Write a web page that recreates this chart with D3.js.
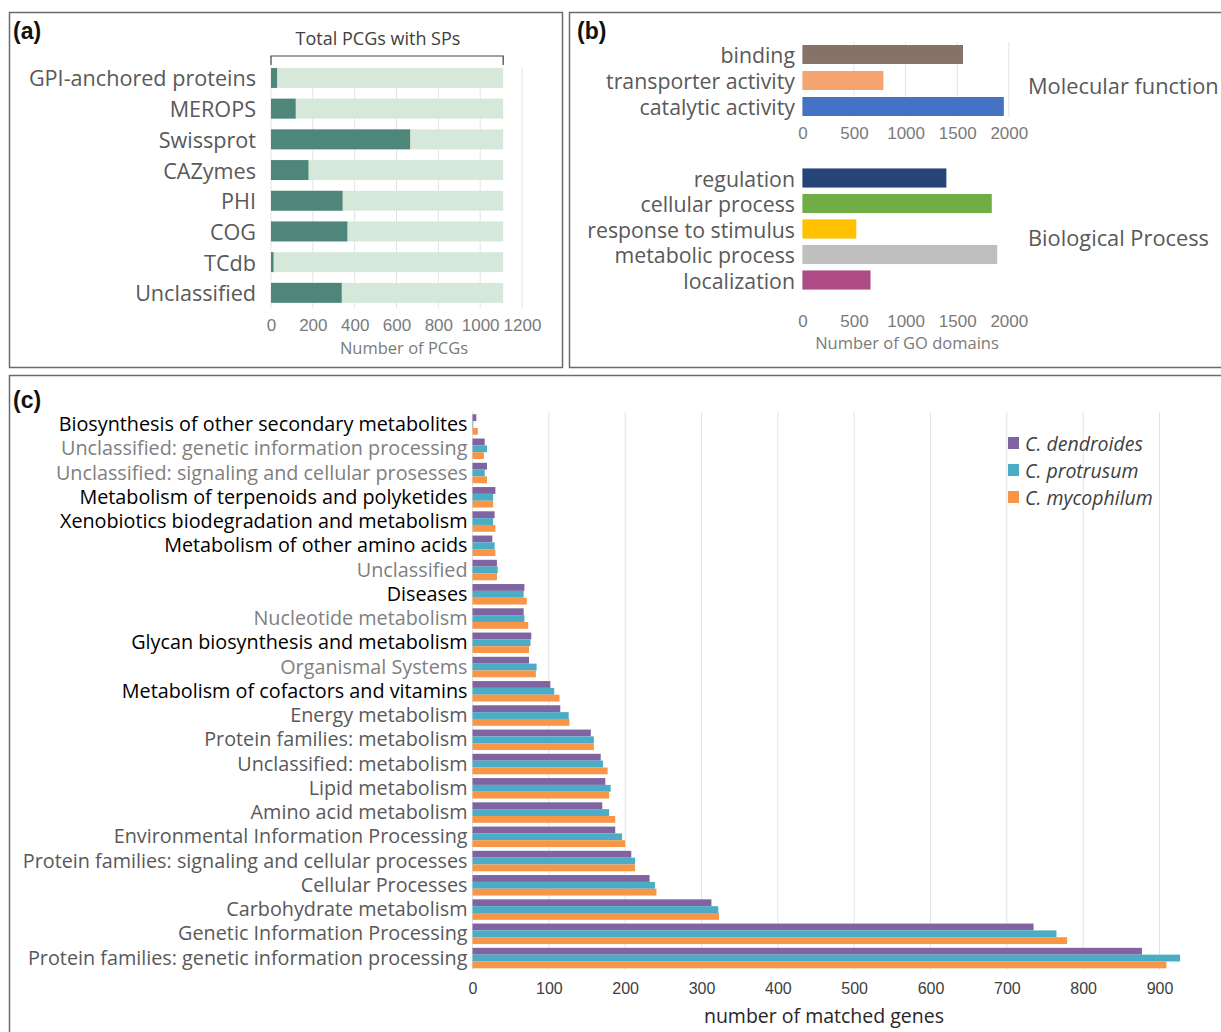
<!DOCTYPE html>
<html>
<head>
<meta charset="utf-8">
<script src="https://cdn.jsdelivr.net/npm/d3@7"></script>
<style>
    body {margin: 0; background: #fff;}
    svg {display: block; font-family: 'Open Sans', Lato, sans-serif;}
</style>
</head>
<body>
<svg id="fig"></svg>
<script>

//panel (a) data
var pcgCategories = ['GPI-anchored proteins', 'MEROPS', 'Swissprot', 'CAZymes', 'PHI', 'COG', 'TCdb', 'Unclassified'];
var pcgCounts = [29, 118, 665, 179, 342, 365, 12, 338];
var pcgTotal = 1110;
var pcgTicks = [0, 200, 400, 600, 800, 1000, 1200];

//panel (b) data
var mfCategories = ['binding', 'transporter activity', 'catalytic activity'];
var mfCounts = [1556, 785, 1952];
var bpCategories = ['regulation', 'cellular process', 'response to stimulus', 'metabolic process', 'localization'];
var bpCounts = [1395, 1835, 522, 1888, 660];
var goTicks = [0, 500, 1000, 1500, 2000];

//panel (c) data
var keggCategories = [
    'Biosynthesis of other secondary metabolites',
    'Unclassified: genetic information processing',
    'Unclassified: signaling and cellular prosesses',
    'Metabolism of terpenoids and polyketides',
    'Xenobiotics biodegradation and metabolism',
    'Metabolism of other amino acids',
    'Unclassified',
    'Diseases',
    'Nucleotide metabolism',
    'Glycan biosynthesis and metabolism',
    'Organismal Systems',
    'Metabolism of cofactors and vitamins',
    'Energy metabolism',
    'Protein families: metabolism',
    'Unclassified: metabolism',
    'Lipid metabolism',
    'Amino acid metabolism',
    'Environmental Information Processing',
    'Protein families: signaling and cellular processes',
    'Cellular Processes',
    'Carbohydrate metabolism',
    'Genetic Information Processing',
    'Protein families: genetic information processing'
];
var species = ['C. dendroides', 'C. protrusum', 'C. mycophilum'];
var dendroides = [5, 16, 19, 30, 29, 26, 32, 68, 67, 77, 74, 102, 115, 155, 168, 174, 170, 187, 208, 232, 313, 735, 877];
var protrusum = [1, 19, 16, 27, 27, 29, 33, 67, 68, 76, 84, 107, 126, 159, 171, 181, 179, 196, 213, 239, 322, 765, 927];
var mycophilum = [7, 15, 19, 27, 30, 30, 32, 71, 73, 74, 83, 114, 127, 159, 177, 179, 187, 200, 213, 241, 323, 779, 909];
var keggTicks = [0, 100, 200, 300, 400, 500, 600, 700, 800, 900];

//styling
var darkGreen = '#4e877a';
var lightGreen = '#d5e8da';
var mfColors = ['#857369', '#f4a46f', '#4472c4'];
var bpColors = ['#264478', '#70ad47', '#ffc000', '#bfbfbf', '#ae4b84'];
var speciesColors = ['#8064a2', '#4bacc6', '#f79646'];
var textGrey = '#595959';
var gridGrey = '#e3e3e3';
//label tone in panel (c): k = black, l = light grey, anything else = mid grey
var keggTone = 'kllkkklklklk';

var svg = d3.select('#fig')
    .attr('width', 1221)
    .attr('height', 1032);

svg.append('rect')
    .attr('width', 1221)
    .attr('height', 1032)
    .attr('fill', '#fff');

//panel frames
[[9.5, 12.5, 553, 355], [569.5, 12.5, 700, 355], [9.5, 375.5, 1240, 700]].forEach(function(b) {
    svg.append('rect')
        .attr('x', b[0])
        .attr('y', b[1])
        .attr('width', b[2])
        .attr('height', b[3])
        .attr('fill', 'none')
        .attr('stroke', '#6b6b6b')
        .attr('stroke-width', 1.5);
});

function panelTag(txt, x, y) {
    svg.append('text')
        .text(txt)
        .attr('x', x)
        .attr('y', y)
        .attr('dominant-baseline', 'central')
        .attr('font-size', 23)
        .attr('font-weight', 'bold')
        .attr('font-family', 'Arial, Liberation Sans, sans-serif')
        .attr('fill', '#111');
}

function gridLines(g, x, ticks, y0, y1) {
    g.selectAll('line.grid')
        .data(ticks)
        .enter()
        .append('line')
        .attr('class', 'grid')
        .attr('x1', function(d) {return x(d);})
        .attr('x2', function(d) {return x(d);})
        .attr('y1', y0)
        .attr('y2', y1)
        .attr('stroke', gridGrey)
        .attr('stroke-width', 1);
}

function tickLabels(g, x, ticks, y, size, colour) {
    var axis = g.append('g')
        .attr('transform', 'translate(0,' + y + ')')
        .call(d3.axisBottom(x).tickValues(ticks).tickFormat(d3.format('d')).tickSize(0).tickPadding(0));
    axis.select('.domain').remove();
    axis.selectAll('text')
        .attr('dy', null)
        .attr('dominant-baseline', 'central')
        .attr('font-size', size)
        .attr('font-family', null)
        .attr('fill', colour);
}

function catLabels(g, y, cats, x, size, colour) {
    g.selectAll('text.cat')
        .data(cats)
        .enter()
        .append('text')
        .attr('class', 'cat')
        .text(function(d) {return d;})
        .attr('x', x)
        .attr('y', function(d) {return y(d) + y.bandwidth()/2;})
        .attr('text-anchor', 'end')
        .attr('dominant-baseline', 'central')
        .attr('font-size', size)
        .attr('fill', colour);
}

//----- panel (a) -----
panelTag('(a)', 13, 31);
var gA = svg.append('g');
var xA = d3.scaleLinear().domain([0, 1200]).range([271, 522]);
var yA = d3.scaleBand().domain(pcgCategories).range([62.6, 308.2]).paddingInner(0.35).paddingOuter(0.175);

gridLines(gA, xA, pcgTicks, 68, 308);

gA.selectAll('rect.total')
    .data(pcgCategories)
    .enter()
    .append('rect')
    .attr('x', xA(0))
    .attr('y', function(d) {return yA(d);})
    .attr('width', xA(pcgTotal) - xA(0))
    .attr('height', yA.bandwidth())
    .attr('fill', lightGreen);

gA.selectAll('rect.hit')
    .data(pcgCounts)
    .enter()
    .append('rect')
    .attr('x', xA(0))
    .attr('y', function(d, i) {return yA(pcgCategories[i]);})
    .attr('width', function(d) {return xA(d) - xA(0);})
    .attr('height', yA.bandwidth())
    .attr('fill', darkGreen);

catLabels(gA, yA, pcgCategories, 256, 21.6, textGrey);
tickLabels(gA, xA, pcgTicks, 325, 17, '#7a7a7a');

gA.append('text')
    .text('Number of PCGs')
    .attr('x', 404)
    .attr('y', 347)
    .attr('text-anchor', 'middle')
    .attr('dominant-baseline', 'central')
    .attr('font-size', 16.5)
    .attr('fill', '#7a7a7a');

//bracket over the total bars
gA.append('path')
    .attr('d', 'M' + xA(0) + ',65V56H' + xA(pcgTotal) + 'V65')
    .attr('fill', 'none')
    .attr('stroke', '#404040')
    .attr('stroke-width', 1.2);

gA.append('text')
    .text('Total PCGs with SPs')
    .attr('x', 378)
    .attr('y', 38)
    .attr('text-anchor', 'middle')
    .attr('dominant-baseline', 'central')
    .attr('font-size', 18)
    .attr('fill', '#404040');

//----- panel (b) -----
panelTag('(b)', 577, 31);
var gB = svg.append('g');
var xB = d3.scaleLinear().domain([0, 2000]).range([802.4, 1008.8]);
var yMF = d3.scaleBand().domain(mfCategories).range([41.5, 119.5]).paddingInner(0.27).paddingOuter(0.135);
var yBP = d3.scaleBand().domain(bpCategories).range([165.25, 292.75]).paddingInner(0.25).paddingOuter(0.125);

gridLines(gB, xB, goTicks.slice(1), 42, 117);
gridLines(gB, xB, goTicks.slice(1), 168, 290);

gB.selectAll('rect.mf')
    .data(mfCounts)
    .enter()
    .append('rect')
    .attr('x', xB(0))
    .attr('y', function(d, i) {return yMF(mfCategories[i]);})
    .attr('width', function(d) {return xB(d) - xB(0);})
    .attr('height', yMF.bandwidth())
    .attr('fill', function(d, i) {return mfColors[i];});

gB.selectAll('rect.bp')
    .data(bpCounts)
    .enter()
    .append('rect')
    .attr('x', xB(0))
    .attr('y', function(d, i) {return yBP(bpCategories[i]);})
    .attr('width', function(d) {return xB(d) - xB(0);})
    .attr('height', yBP.bandwidth())
    .attr('fill', function(d, i) {return bpColors[i];});

catLabels(gB.append('g'), yMF, mfCategories, 795, 21.3, textGrey);
catLabels(gB.append('g'), yBP, bpCategories, 795, 21.3, textGrey);
tickLabels(gB, xB, goTicks, 133, 17, '#7a7a7a');
tickLabels(gB, xB, goTicks, 321, 17, '#7a7a7a');

gB.append('text')
    .text('Number of GO domains')
    .attr('x', 907)
    .attr('y', 342)
    .attr('text-anchor', 'middle')
    .attr('dominant-baseline', 'central')
    .attr('font-size', 16.5)
    .attr('fill', '#7a7a7a');

[['Molecular function', 85], ['Biological Process', 237]].forEach(function(t) {
    gB.append('text')
        .text(t[0])
        .attr('x', 1028)
        .attr('y', t[1])
        .attr('dominant-baseline', 'central')
        .attr('font-size', 21.8)
        .attr('fill', textGrey);
});

//----- panel (c) -----
panelTag('(c)', 13, 400);
var gC = svg.append('g');
var xC = d3.scaleLinear().domain([0, 900]).range([472.5, 1159.5]);
var yC = d3.scaleBand().domain(keggCategories).range([412.4, 970.2]).paddingInner(0.155).paddingOuter(0.0775);
var ySub = d3.scaleBand().domain(species).range([0, yC.bandwidth()]);
var seriesValues = [dendroides, protrusum, mycophilum];

gridLines(gC, xC, keggTicks.slice(1), 412, 970);

gC.append('line')
    .attr('x1', xC(0))
    .attr('x2', xC(0))
    .attr('y1', 412)
    .attr('y2', 970)
    .attr('stroke', gridGrey);

var groups = gC.selectAll('g.kegg')
    .data(keggCategories)
    .enter()
    .append('g')
    .attr('class', 'kegg')
    .attr('transform', function(d) {return 'translate(0,' + yC(d) + ')';});

groups.selectAll('rect')
    .data(function(d, i) {
        return species.map(function(s, j) {return {sp: s, k: j, v: seriesValues[j][i]};});
    })
    .enter()
    .append('rect')
    .attr('x', xC(0))
    .attr('y', function(d) {return ySub(d.sp);})
    .attr('width', function(d) {return xC(d.v) - xC(0);})
    .attr('height', ySub.bandwidth())
    .attr('fill', function(d) {return speciesColors[d.k];});

gC.selectAll('text.cat')
    .data(keggCategories)
    .enter()
    .append('text')
    .attr('class', 'cat')
    .text(function(d) {return d;})
    .attr('x', 467.5)
    .attr('y', function(d) {return yC(d) + yC.bandwidth()/2 - 1;})
    .attr('text-anchor', 'end')
    .attr('dominant-baseline', 'central')
    .attr('font-size', 19.8)
    .attr('fill', function(d, i) {
        var t = keggTone.charAt(i);
        if (t === 'k') {return '#000';}
        else if (t === 'l') {return '#808080';}
        return textGrey;
    });

tickLabels(gC, xC, keggTicks, 988, 16, '#404040');

gC.append('text')
    .text('number of matched genes')
    .attr('x', 824)
    .attr('y', 1015)
    .attr('text-anchor', 'middle')
    .attr('dominant-baseline', 'central')
    .attr('font-size', 19.5)
    .attr('fill', '#262626');

//legend
var legend = gC.selectAll('g.legend')
    .data(species)
    .enter()
    .append('g')
    .attr('class', 'legend')
    .attr('transform', function(d, i) {return 'translate(1008,' + (443 + i*27) + ')';});

legend.append('rect')
    .attr('x', 0)
    .attr('y', -6)
    .attr('width', 11)
    .attr('height', 12)
    .attr('fill', function(d, i) {return speciesColors[i];});

legend.append('text')
    .text(function(d) {return d;})
    .attr('x', 17)
    .attr('y', 0)
    .attr('dominant-baseline', 'central')
    .attr('font-size', 19.5)
    .attr('font-style', 'italic')
    .attr('fill', '#404040');

</script>
</body>
</html>
